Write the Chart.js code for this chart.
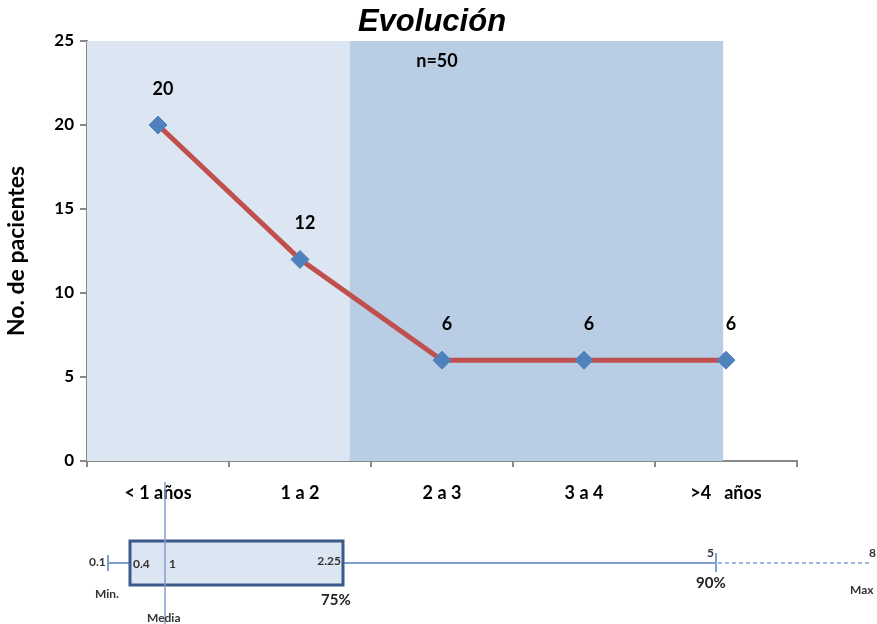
<!DOCTYPE html>
<html>
<head>
<meta charset="utf-8">
<script src="https://cdn.jsdelivr.net/npm/chart.js@4"></script>
<style>
  html, body { margin: 0; padding: 0; background: #fff; }
  #wrap { width: 877px; height: 624px; }
</style>
</head>
<body>
<div id="wrap"><canvas id="evolucion_chart" width="877" height="624"></canvas></div>
<script>
// data
const categories = ["< 1 años", "1 a 2", "2 a 3", "3 a 4", ">4   años"];
const pacientes = [20, 12, 6, 6, 6];
const yTicks = [0, 5, 10, 15, 20, 25];
// background bands, in category index units
const bandFrom = [-0.5, 1.35];
const bandTo = [1.35, 3.98];
const bandColor = ['#dce6f2', '#b9cde5'];
// box plot summary under the chart
const boxLabels = ["0.1", "0.4", "1", "2.25", "5", "8"];

const FONT = "Lato, 'Open Sans', sans-serif";

// background bands + extra texts
const decoPlugin = {
    id: 'deco',
    beforeDatasetsDraw(chart) {
        const ctx = chart.ctx;
        const x = chart.scales.x, y = chart.scales.y;
        const top = y.getPixelForValue(25), bottom = y.getPixelForValue(0);
        ctx.save();
        for (let i = 0; i < bandFrom.length; i++) {
            const x1 = x.getPixelForValue(bandFrom[i]);
            const x2 = x.getPixelForValue(bandTo[i]);
            ctx.fillStyle = bandColor[i];
            ctx.fillRect(x1, top, x2 - x1, bottom - top);
        }
        ctx.restore();
    },
    afterDraw(chart) {
        const ctx = chart.ctx;
        const x = chart.scales.x, y = chart.scales.y;
        ctx.save();
        // title
        ctx.fillStyle = '#000';
        ctx.font = "italic bold 31px 'Liberation Sans', Arial, sans-serif";
        ctx.textAlign = 'center';
        ctx.textBaseline = 'middle';
        ctx.fillText('Evolución', 432, 22);

        ctx.font = "bold 18px " + FONT;
        ctx.fillText('n=50', 437, 61);

        // data labels
        ctx.font = "bold 18px " + FONT;
        pacientes.forEach(function(v, i) {
            ctx.fillText(String(v), x.getPixelForValue(i) + 5, y.getPixelForValue(v) - 36);
        });

        // box plot
        const lineY = 563;
        ctx.strokeStyle = '#7f9fd0';
        ctx.lineWidth = 2;
        ctx.beginPath();
        ctx.moveTo(108, lineY); ctx.lineTo(716, lineY);
        ctx.moveTo(108, 555); ctx.lineTo(108, 571);
        ctx.moveTo(716, 553); ctx.lineTo(716, 572);
        ctx.stroke();
        ctx.setLineDash([4, 3]);
        ctx.lineWidth = 1.5;
        ctx.beginPath();
        ctx.moveTo(718, lineY); ctx.lineTo(870, lineY);
        ctx.stroke();
        ctx.setLineDash([]);

        ctx.fillStyle = '#dce6f2';
        ctx.fillRect(130, 541, 213, 44);
        ctx.strokeStyle = '#3b5a89';
        ctx.lineWidth = 3;
        ctx.strokeRect(130, 541, 213, 44);

        // media line
        ctx.strokeStyle = '#7f9fd0';
        ctx.lineWidth = 1.5;
        ctx.beginPath();
        ctx.moveTo(165, 482); ctx.lineTo(165, 624);
        ctx.stroke();

        ctx.fillStyle = '#333';
        ctx.font = "bold 12px " + FONT;
        ctx.textAlign = 'left';
        ctx.fillText(boxLabels[0], 89, 562);
        ctx.fillText(boxLabels[1], 133, 564);
        ctx.fillText(boxLabels[2], 169, 564);
        ctx.textAlign = 'right';
        ctx.fillText(boxLabels[3], 341, 561);
        ctx.fillText(boxLabels[4], 714, 553);
        ctx.fillText(boxLabels[5], 876, 553);
        ctx.textAlign = 'left';
        ctx.fillText('Min.', 95, 594);
        ctx.fillText('Media', 147, 618);
        ctx.fillText('Max', 850, 590);
        ctx.font = "bold 15px " + FONT;
        ctx.fillStyle = '#222';
        ctx.fillText('75%', 321, 600);
        ctx.fillText('90%', 696, 583);
        ctx.restore();
    }
};

var ctx = document.getElementById('evolucion_chart').getContext('2d');

var data = {
    labels: categories,
    datasets: [{
        label: 'Pacientes',
        data: pacientes,
        borderColor: '#c0504d',
        borderWidth: 5,
        pointStyle: 'rectRot',
        pointRadius: 9,
        pointHoverRadius: 9,
        pointBackgroundColor: '#4f81bd',
        pointBorderColor: '#4f81bd',
        pointBorderWidth: 1,
        tension: 0
    }]
};

var options = {
    responsive: false,
    animation: false,
    layout: { padding: { top: 41, right: 80, bottom: 118, left: 0 } },
    plugins: {
        legend: { display: false },
        tooltip: { enabled: false },
        title: { display: false }
    },
    scales: {
        x: {
            offset: true,
            afterFit: function(s) { s.height = 45; },
            border: { color: '#888', width: 2 },
            grid: { drawOnChartArea: false, drawTicks: true, tickLength: 6, color: '#888', lineWidth: 2, offset: true },
            ticks: { color: '#000', padding: 15, maxRotation: 0, autoSkip: false, font: { family: FONT, size: 18, weight: 'bold' } }
        },
        y: {
            min: 0,
            max: 25,
            afterFit: function(s) { s.width = 87; },
            afterBuildTicks: function(s) { s.ticks = yTicks.map(function(v) { return { value: v }; }); },
            border: { color: '#888', width: 2 },
            grid: { drawOnChartArea: false, drawTicks: true, tickLength: 7, color: '#888', lineWidth: 2 },
            ticks: { color: '#000', padding: 6, font: { family: FONT, size: 17, weight: 'bold' } },
            title: { display: true, text: 'No. de pacientes', color: '#000', padding: { top: 3 }, font: { family: FONT, size: 23, weight: 'bold' } }
        }
    }
};

var evolucionChart = new Chart(ctx, {
    type: 'line',
    data: data,
    options: options,
    plugins: [decoPlugin]
});
</script>
</body>
</html>
